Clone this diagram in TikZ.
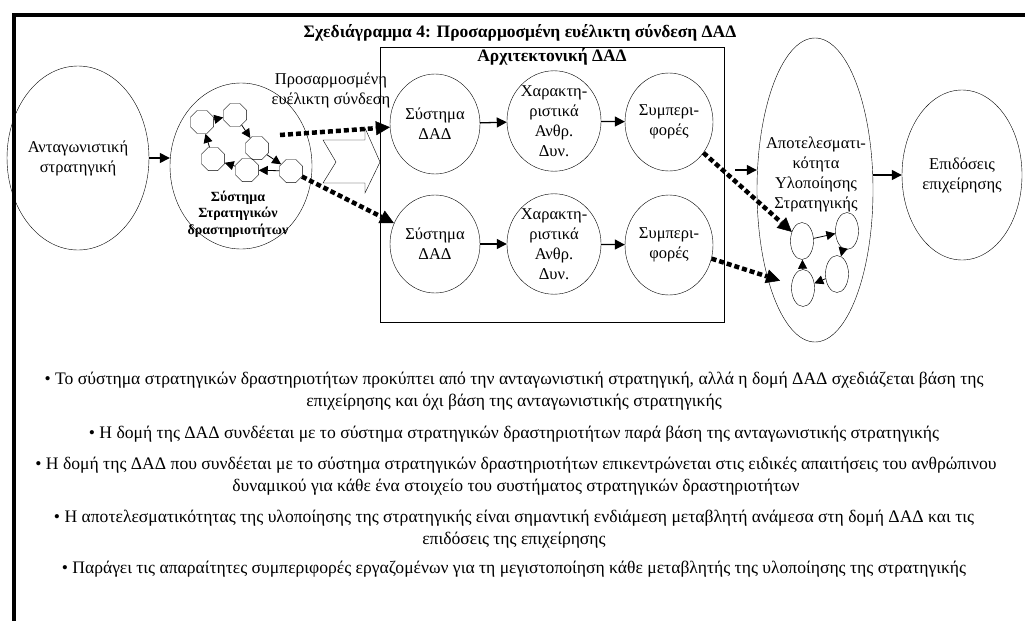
\documentclass[tikz,border=0pt]{standalone}
\usepackage{fontspec}
\setmainfont{Liberation Serif}
\usetikzlibrary{shapes.geometric}
\usetikzlibrary{arrows.meta}
\usetikzlibrary{positioning}

\begin{document}
\begin{tikzpicture}[x=1pt, y=-1pt,
    % Plain outlines for the big stages
    stage node/.style={ellipse, draw, thin, inner sep=0pt, font=\fontsize{16.5}{20}\selectfont, align=center},
    % Small octagons and small ellipses
    oct node/.style={regular polygon, regular polygon sides=8, draw, thin, minimum size=25pt, inner sep=0pt},
    small node/.style={ellipse, draw, thin, minimum width=23pt, minimum height=37pt, inner sep=0pt},
    % Arrow styles
    my edge/.style={-{Triangle[length=10pt, width=10pt]}, line width=1.3pt},
    small edge/.style={-{Triangle[length=9pt, width=9pt]}, line width=0.8pt},
    link edge/.style={-{Triangle[length=14pt, width=14pt, line width=0.5pt]}, line width=4.5pt, dash pattern=on 5pt off 3pt},
    % Text styles
    plain text/.style={inner sep=0pt, align=center, font=\fontsize{16.5}{20}\selectfont},
    bold text/.style={inner sep=0pt, align=center, font=\bfseries\fontsize{17.5}{20}\selectfont},
    note text/.style={inner sep=0pt, align=center, font=\fontsize{17.6}{22}\selectfont}
  ]

  \useasboundingbox (0,0) rectangle (1025,621);

  % --- Frame ---
  \draw[line width=4pt] (1025,15) -- (14,15) -- (14,621);

  % --- Titles ---
  \node[bold text] (title) at (520,33) {Σχεδιάγραμμα 4: Προσαρμοσμένη ευέλικτη σύνδεση ΔΑΔ};
  \node[draw, thin, minimum width=344pt, minimum height=275pt] (arch) at (552,185) {};
  \node[bold text] (archlbl) at (552,57) {Αρχιτεκτονική ΔΑΔ};
  \node[plain text] (linklbl) at (331,90) {Προσαρμοσμένη\\ευέλικτη σύνδεση};

  % --- Node Definitions ---
  \node[stage node, minimum width=124pt, minimum height=184pt] (comp) at (78,158) {Ανταγωνιστική\\στρατηγική};
  \node[stage node, minimum width=142pt, minimum height=166pt] (sys) at (241,166) {};
  \node[inner sep=0pt, align=center, font=\bfseries\fontsize{14}{16.5}\selectfont] (syslbl) at (238,214) {Σύστημα\\Στρατηγικών\\δραστηριοτήτων};

  \node[oct node] (oA) at (202,122) {};
  \node[oct node] (oB) at (235,115) {};
  \node[oct node] (oC) at (257,148) {};
  \node[oct node] (oD) at (213,159) {};
  \node[oct node] (oE) at (247,170) {};
  \node[oct node] (oF) at (291,171) {};

  \node[stage node, minimum width=90pt, minimum height=100pt] (hrs1) at (435,124) {Σύστημα\\ΔΑΔ};
  \node[stage node, minimum width=92pt, minimum height=96pt] (hrc1) at (554,121) {Χαρακτη-\\ριστικά\\Ανθρ.\\Δυν.};
  \node[stage node, minimum width=88pt, minimum height=98pt] (beh1) at (669,122) {Συμπερι-\\φορές};
  \node[stage node, minimum width=90pt, minimum height=98pt] (hrs2) at (435,244) {Σύστημα\\ΔΑΔ};
  \node[stage node, minimum width=92pt, minimum height=98pt] (hrc2) at (554,244) {Χαρακτη-\\ριστικά\\Ανθρ.\\Δυν.};
  \node[stage node, minimum width=88pt, minimum height=100pt] (beh2) at (669,245) {Συμπερι-\\φορές};

  \node[stage node, minimum width=116pt, minimum height=304pt] (impl) at (815,190) {};
  \node[plain text] (impllbl) at (816,174) {Αποτελεσματι-\\κότητα\\Υλοποίησης\\Στρατηγικής};
  \node[small node] (e1) at (802,241) {};
  \node[small node] (e2) at (847,231) {};
  \node[small node] (e3) at (837,274) {};
  \node[small node] (e4) at (803,288) {};

  \node[stage node, minimum width=120pt, minimum height=170pt] (perf) at (962,175) {Επιδόσεις\\επιχείρησης};

  \coordinate (l1) at (280,135);
  \coordinate (in) at (735,170);

  % --- Edge Definitions ---
  \begin{scope}[my edge]
    \draw (comp.east) -- (comp.east -| sys.west);
    \draw (hrs1) -- (hrc1);
    \draw (hrc1) -- (beh1);
    \draw (hrs2) -- (hrc2);
    \draw (hrc2) -- (beh2);
    \draw (in) -- (impl.west |- in);
    \draw (perf.west -| impl.east) -- (perf.west);
  \end{scope}

  % cycle of activities and cycle inside the implementation
  \begin{scope}[small edge]
    \draw (oA) -- (oB);
    \draw (oB) -- (oC);
    \draw (oC) -- (oF);
    \draw (oF) -- (oE);
    \draw (oE) -- (oD);
    \draw (oD) -- (oA);
    \draw (e1) -- (e2);
    \draw (e2) -- (e3);
    \draw (e3) -- (e4);
    \draw (e4) -- (e1);
  \end{scope}

  % flexible links
  \begin{scope}[link edge]
    \draw (l1) -- (hrs1);
    \draw (oF) -- (hrs2);
    \draw (beh1) -- (e1);
    \draw[shorten >=12pt] (beh2) -- (e4);
  \end{scope}

  % hollow arrow into the architecture
  \draw[thin] (323,140) -- (365,140) -- (365,128) -- (380,162) -- (365,193) -- (365,183) -- (323,183) -- (336,162) -- cycle;

  % --- Notes ---
  \node[note text] (n1) at (514,391) {• Το σύστημα στρατηγικών δραστηριοτήτων προκύπτει από την ανταγωνιστική στρατηγική, αλλά η δομή ΔΑΔ σχεδιάζεται βάση της\\επιχείρησης και όχι βάση της ανταγωνιστικής στρατηγικής};
  \node[note text] (n2) at (514,434) {• Η δομή της ΔΑΔ συνδέεται με το σύστημα στρατηγικών δραστηριοτήτων παρά βάση της ανταγωνιστικής στρατηγικής};
  \node[note text] (n3) at (516,476) {• Η δομή της ΔΑΔ που συνδέεται με το σύστημα στρατηγικών δραστηριοτήτων επικεντρώνεται στις ειδικές απαιτήσεις του ανθρώπινου\\δυναμικού για κάθε ένα στοιχείο του συστήματος στρατηγικών δραστηριοτήτων};
  \node[note text] (n4) at (514,529) {• Η αποτελεσματικότητας της υλοποίησης της στρατηγικής είναι σημαντική ενδιάμεση μεταβλητή ανάμεσα στη δομή ΔΑΔ και τις\\επιδόσεις της επιχείρησης};
  \node[note text] (n5) at (514,569) {• Παράγει τις απαραίτητες συμπεριφορές εργαζομένων για τη μεγιστοποίηση κάθε μεταβλητής της υλοποίησης της στρατηγικής};

\end{tikzpicture}
\end{document}
